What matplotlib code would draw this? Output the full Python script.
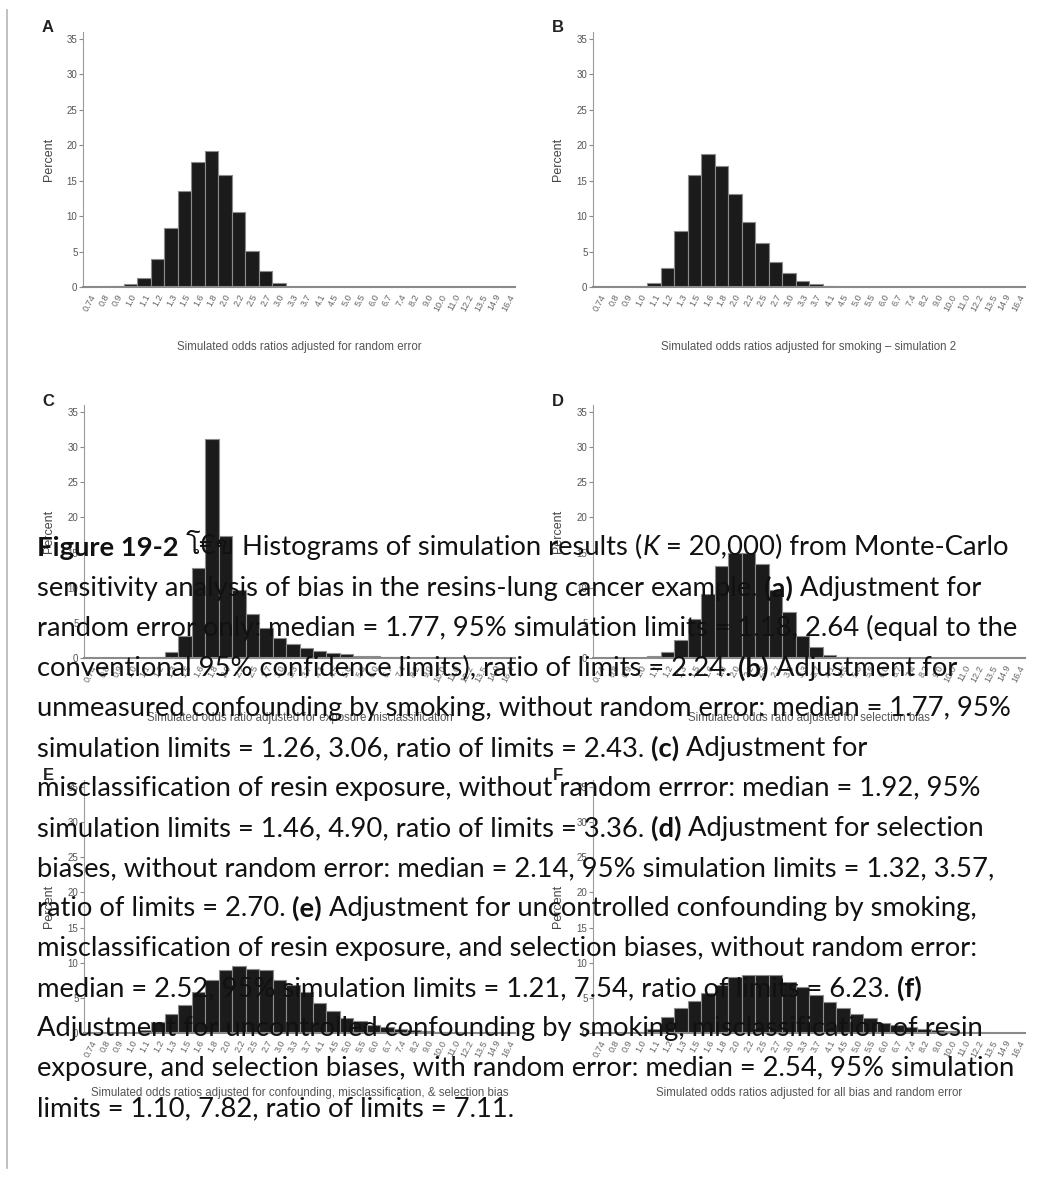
import matplotlib
matplotlib.use("Agg")
import matplotlib.pyplot as plt
from matplotlib import font_manager, ft2font
from matplotlib.lines import Line2D

W, H = 1041, 1180

# bin labels (simulated odds ratios) shared by all six histograms
or_labels = ["0.74", "0.8", "0.9", "1.0", "1.1", "1.2", "1.3", "1.5", "1.6", "1.8",
             "2.0", "2.2", "2.5", "2.7", "3.0", "3.3", "3.7", "4.1", "4.5", "5.0",
             "5.5", "6.0", "6.7", "7.4", "8.2", "9.0", "10.0", "11.0", "12.2", "13.5",
             "14.9", "16.4"]

# percent of simulations in each bin
pct_a = [0, 0, 0.1, 0.4, 1.3, 3.9, 8.3, 13.5, 17.6, 19.1, 15.8, 10.6, 5.1, 2.3, 0.6, 0.05,
         0, 0, 0, 0, 0, 0, 0, 0, 0, 0, 0, 0, 0, 0, 0, 0]
pct_b = [0, 0, 0, 0, 0.5, 2.7, 7.9, 15.8, 18.7, 17.0, 13.1, 9.2, 6.2, 3.5, 2.0, 0.8,
         0.4, 0.2, 0.05, 0, 0, 0, 0, 0, 0, 0, 0, 0, 0, 0, 0, 0]
pct_c = [0, 0, 0, 0, 0, 0.2, 0.8, 3.1, 12.8, 31.1, 17.3, 9.7, 6.2, 4.3, 2.8, 2.0,
         1.4, 0.95, 0.7, 0.5, 0.35, 0.25, 0.15, 0.1, 0.05, 0, 0, 0, 0, 0, 0, 0]
pct_d = [0, 0, 0, 0, 0.25, 0.85, 2.5, 5.6, 9.1, 13.1, 14.9, 14.9, 13.4, 9.7, 6.5, 3.1,
         1.6, 0.45, 0.15, 0.05, 0, 0, 0, 0, 0, 0, 0, 0, 0, 0, 0, 0]
pct_e = [0, 0, 0, 0, 0.4, 1.6, 2.7, 4.0, 5.8, 7.6, 9.0, 9.5, 9.1, 9.0, 7.6, 6.8,
         5.8, 4.2, 3.2, 2.2, 1.7, 1.2, 0.9, 0.6, 0.4, 0.3, 0.2, 0.1, 0, 0, 0, 0]
pct_f = [0, 0, 0, 0.2, 0.6, 2.3, 3.5, 4.6, 5.7, 6.9, 7.9, 8.2, 8.3, 8.3, 7.3, 6.5,
         5.4, 4.4, 3.5, 2.7, 2.1, 1.4, 1.1, 0.85, 0.6, 0.4, 0.3, 0.2, 0.1, 0, 0, 0]

panel_letters = ["A", "B", "C", "D", "E", "F"]
panel_titles = [
    "Simulated odds ratios adjusted for random error",
    "Simulated odds ratios adjusted for smoking \u2013 simulation 2",
    "Simulated odds ratio adjusted for exposure misclassification",
    "Simulated odds ratio adjusted for selection bias",
    "Simulated odds ratios adjusted for confounding, misclassification, & selection bias",
    "Simulated odds ratios adjusted for all bias and random error",
]
panel_values = [pct_a, pct_b, pct_c, pct_d, pct_e, pct_f]

# caption, one list of (text, style) pieces per printed line
caption = [
    [("Figure 19-2", "b"), (" \u0e42\u20ac\u0e02", "t"), (" Histograms of simulation results (", "n"),
     ("K", "i"), (" = 20,000) from Monte-Carlo", "n")],
    [("sensitivity analysis of bias in the resins-lung cancer example.", "n"), (" (a)", "b"),
     (" Adjustment for", "n")],
    [("random error only: median = 1.77, 95% simulation limits = 1.18, 2.64 (equal to the", "n")],
    [("conventional 95% confidence limits), ratio of limits = 2.24.", "n"), (" (b)", "b"),
     (" Adjustment for", "n")],
    [("unmeasured confounding by smoking, without random error: median = 1.77, 95%", "n")],
    [("simulation limits = 1.26, 3.06, ratio of limits = 2.43.", "n"), (" (c)", "b"),
     (" Adjustment for", "n")],
    [("misclassification of resin exposure, without random errror: median = 1.92, 95%", "n")],
    [("simulation limits = 1.46, 4.90, ratio of limits = 3.36.", "n"), (" (d)", "b"),
     (" Adjustment for selection", "n")],
    [("biases, without random error: median = 2.14, 95% simulation limits = 1.32, 3.57,", "n")],
    [("ratio of limits = 2.70.", "n"), (" (e)", "b"),
     (" Adjustment for uncontrolled confounding by smoking,", "n")],
    [("misclassification of resin exposure, and selection biases, without random error:", "n")],
    [("median = 2.52, 95% simulation limits = 1.21, 7.54, ratio of limits = 6.23.", "n"),
     (" (f)", "b")],
    [("Adjustment for uncontrolled confounding by smoking, misclassification of resin", "n")],
    [("exposure, and selection biases, with random error: median = 2.54, 95% simulation", "n")],
    [("limits = 1.10, 7.82, ratio of limits = 7.11.", "n")],
]

names = {f.name for f in font_manager.fontManager.ttflist}
cap_font = "Liberation Sans Narrow" if "Liberation Sans Narrow" in names else "Lato"


def font_with(ch):
    for f in font_manager.fontManager.ttflist:
        try:
            if ft2font.FT2Font(f.fname).get_char_index(ord(ch)):
                return f.name
        except Exception:
            pass
    return "DejaVu Sans"


thai_font = font_with("\u0e42")

plt.rcParams["font.family"] = ["Liberation Sans", "DejaVu Sans"]

fig = plt.figure(figsize=(W / 100, H / 100), dpi=100)


def px_rect(left, top, right, bottom):
    return [left / W, 1 - bottom / H, (right - left) / W, (bottom - top) / H]


# pixel boxes of the six plot areas (left, top, right, bottom)
boxes = [(83, 31.5, 515, 287), (593, 31.5, 1025, 287),
         (84, 405, 515, 658), (593, 405, 1025, 658),
         (84, 780, 515, 1033), (593, 780, 1025, 1033)]

x = list(range(len(or_labels)))
for i, (box, vals) in enumerate(zip(boxes, panel_values)):
    ax = fig.add_axes(px_rect(*box))
    ax.bar(x, vals, width=1.0, color="#1b1b1b", edgecolor="#8c8c8c", linewidth=0.8)
    ax.set_xlim(-0.5, len(or_labels) - 0.5)
    ax.set_ylim(0, 36)
    ax.set_yticks(range(0, 36, 5))
    ax.set_xticks(x)
    ax.set_xticklabels(or_labels, rotation=62, ha="right", rotation_mode="anchor")
    for s in ["top", "right"]:
        ax.spines[s].set_visible(False)
    ax.spines["left"].set_color("#9a9a9a")
    ax.spines["bottom"].set_color("#8a8a8a")
    ax.spines["bottom"].set_linewidth(1.5)
    ax.tick_params(axis="y", length=3, width=0.8, color="#8a8a8a", labelsize=7,
                   labelcolor="#555555", pad=1)
    ax.tick_params(axis="x", length=0, labelsize=6.6, labelcolor="#666666", pad=4)
    ax.set_ylabel("Percent", fontsize=9, color="#444444")
    left, top, right, bottom = box
    ylab_x = 55 if left < 500 else 564
    ax.yaxis.set_label_coords(-(left - ylab_x) / (right - left), 0.5)

    fig.text((left + right) / 2 / W, 1 - (bottom + 60) / H, panel_titles[i],
             ha="center", va="center", fontsize=8.3, color="#555555")
    fig.text((48 if left < 500 else 558) / W, 1 - (top - 4) / H, panel_letters[i],
             ha="center", va="center", fontsize=12, fontweight="bold", color="#222222")

# thin grey rule on the left
fig.add_artist(Line2D([7 / W, 7 / W], [1 - 10 / H, 1 - 1168 / H], color="#b5b5b5", lw=1.2))

# caption drawn on top of the panels
cap_size = 19.7
styles = {
    "n": dict(family=[cap_font, "DejaVu Sans"]),
    "b": dict(family=[cap_font, "DejaVu Sans"], fontweight="bold"),
    "i": dict(family=[cap_font, "DejaVu Sans"], style="italic"),
    "t": dict(family=[thai_font, cap_font, "DejaVu Sans"]),
}
for k, line in enumerate(caption):
    baseline = 556 + 40 * k
    prev = None
    for txt, st in line:
        gap = 0.25 * cap_size if txt.startswith(" ") else 0.5
        txt = txt.strip()
        if prev is None:
            prev = fig.text(37 / W, 1 - baseline / H, txt, fontsize=cap_size, va="baseline",
                            ha="left", color="#111111", zorder=10, **styles[st])
        else:
            prev = fig.add_artist(plt.Annotation(
                txt, xy=(1, 0), xycoords=prev, xytext=(gap, 0), textcoords="offset points",
                va="bottom", ha="left", fontsize=cap_size, color="#111111", zorder=10,
                **styles[st]))

fig.savefig("out.png", dpi=100)
